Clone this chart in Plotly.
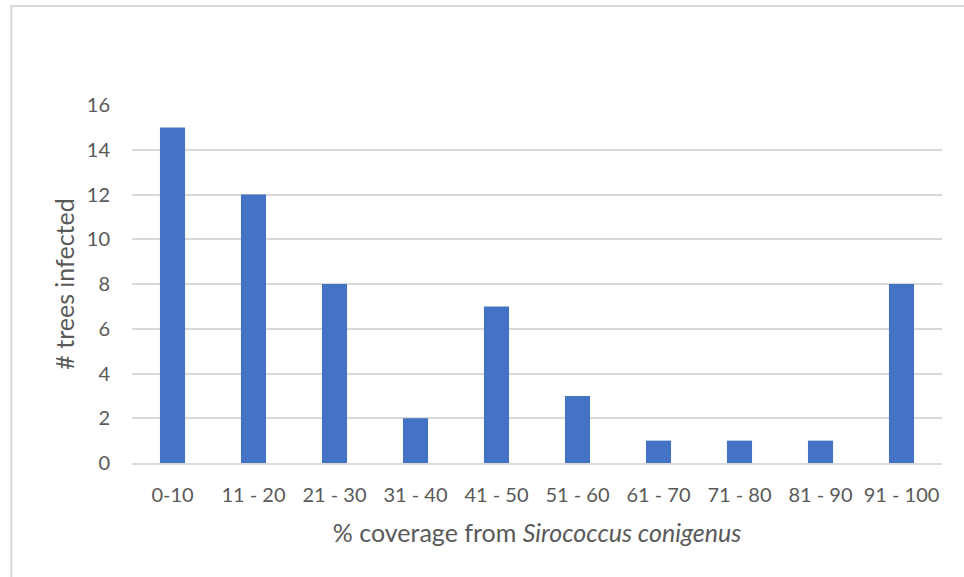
import plotly.graph_objects as go

# Coverage classes and counts of infected trees
coverage_bins = ["0-10", "11 - 20", "21 - 30", "31 - 40", "41 - 50",
                 "51 - 60", "61 - 70", "71 - 80", "81 - 90", "91 - 100"]
trees_infected = [15, 12, 8, 2, 7, 3, 1, 1, 1, 8]
y_ticks = [0, 2, 4, 6, 8, 10, 12, 14, 16]

text_color = "#595959"
grid_color = "#d9d9d9"
font_family = "Lato, Open Sans, sans-serif"

fig = go.Figure(
    go.Bar(
        x=coverage_bins,
        y=trees_infected,
        marker=dict(color="#4472c4", line=dict(width=0)),
    )
)

fig.update_layout(
    width=964,
    height=577,
    margin=dict(l=132, r=22, t=105, b=114),
    paper_bgcolor="white",
    plot_bgcolor="white",
    bargap=0.69,
    showlegend=False,
    font=dict(family=font_family, color=text_color, size=20),
    shapes=[
        dict(type="rect", xref="paper", yref="paper",
             x0=-0.149, x1=1.2, y0=-0.5, y1=1.2765,
             line=dict(color=grid_color, width=2), layer="below"),
    ],
)

fig.update_xaxes(
    showgrid=False,
    showline=True,
    linecolor=grid_color,
    linewidth=1.5,
    ticks="outside",
    ticklen=13,
    tickcolor="rgba(0,0,0,0)",
    tickfont=dict(size=20, color=text_color),
    title=dict(text="% coverage from <i>Sirococcus conigenus</i>",
               font=dict(size=25, color=text_color), standoff=20),
)

fig.update_yaxes(
    range=[0, 16],
    tickvals=y_ticks,
    showgrid=True,
    gridcolor=grid_color,
    gridwidth=1.5,
    zeroline=False,
    ticks="outside",
    ticklen=17,
    tickcolor="rgba(0,0,0,0)",
    tickfont=dict(size=20, color=text_color),
    title=dict(text="# trees infected", font=dict(size=25, color=text_color),
               standoff=5),
)

fig.write_html("out.html")
